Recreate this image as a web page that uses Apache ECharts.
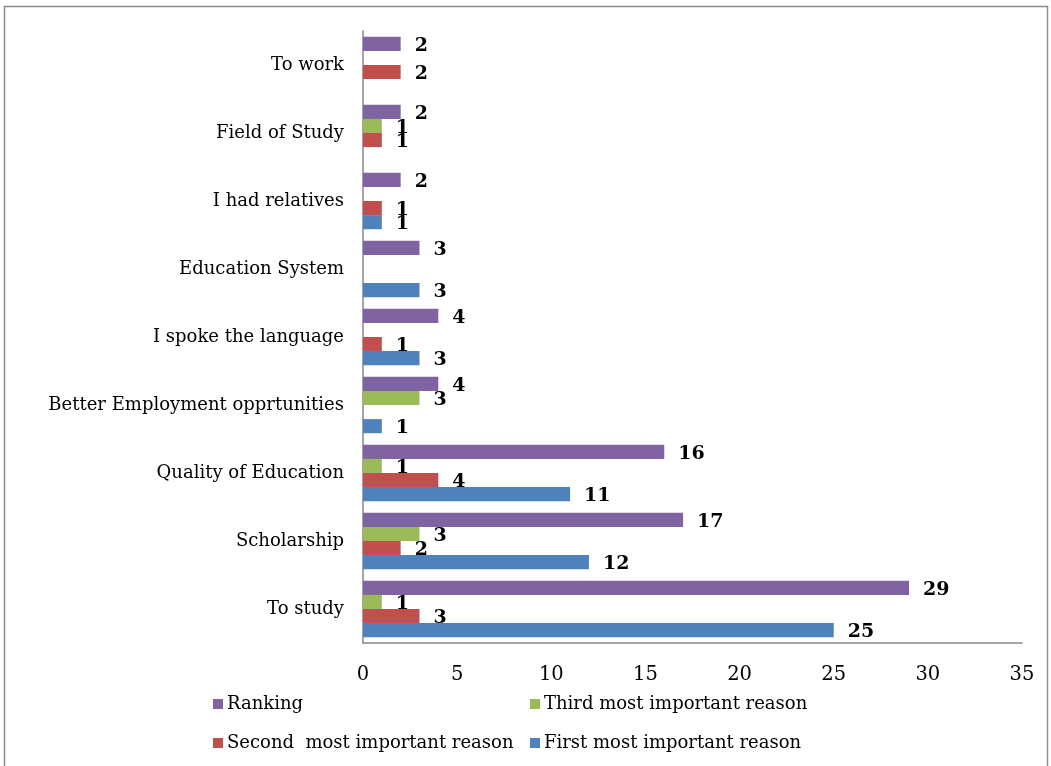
<!DOCTYPE html>
<html>
<head>
<meta charset="utf-8">
<script src="https://cdn.jsdelivr.net/npm/echarts@6/dist/echarts.min.js"></script>
<style>html,body{margin:0;padding:0;background:#fff}#c{width:1051px;height:766px}</style>
</head>
<body>
<div id="c"></div>
<script>
const categories = ["To study", "Scholarship", "Quality of Education", "Better Employment opprtunities", "I spoke the language", "Education System", "I had relatives", "Field of Study", "To work"];
const firstReason  = [25, 12, 11, 1, 3, 3, 1, null, null];
const secondReason = [3, 2, 4, null, 1, null, 1, 1, 2];
const thirdReason  = [1, 3, 1, 3, null, null, null, 1, null];
const ranking      = [29, 17, 16, 4, 4, 3, 2, 2, 2];
const seriesNames = ["Ranking", "Third most important reason", "Second  most important reason", "First most important reason"];
const colors = ["#8064A2", "#9BBB59", "#C0504D", "#4F81BD"];
const xTicks = {min: 0, max: 35, interval: 5};

const FONT = "DejaVu Serif";
const chart = echarts.init(document.getElementById('c'), null, {renderer: 'canvas'});
const dataSets = [ranking, thirdReason, secondReason, firstReason];
const series = dataSets.map((d, i) => ({
  type: 'bar',
  name: seriesNames[i],
  data: d,
  barGap: '0%',
  barCategoryGap: '17%',
  itemStyle: {color: colors[i]},
  label: {show: true, position: 'right', distance: 14, color: '#000', fontFamily: FONT, fontWeight: 'bold', fontSize: 19, offset: [0, 2]},
  animation: false
}));
function leg(name, left, top) {
  return {data: [name], left: left, top: top, icon: 'rect', itemWidth: 10, itemHeight: 10, itemGap: 4,
    textStyle: {fontFamily: FONT, fontSize: 18, color: '#000', padding: [0,0,0,-1]}, selectedMode: false, padding: 0};
}
chart.setOption({
  animation: false,
  backgroundColor: '#fff',
  color: colors,
  grid: {left: 363, right: 29, top: 31, bottom: 123, containLabel: false},
  xAxis: {type: 'value', min: xTicks.min, max: xTicks.max, interval: xTicks.interval,
    axisLine: {show: true, lineStyle: {color: '#868686', width: 1.5}}, axisTick: {show: false},
    splitLine: {show: false}, axisLabel: {fontFamily: FONT, fontSize: 19.5, color: '#000', margin: 22}},
  yAxis: {type: 'category', data: categories,
    axisLine: {show: true, lineStyle: {color: '#868686', width: 1.5}}, axisTick: {show: false},
    axisLabel: {fontFamily: FONT, fontSize: 18, color: '#000', margin: 19}},
  legend: [
    leg(seriesNames[0], 213, 695),
    leg(seriesNames[1], 530, 695),
    leg(seriesNames[2], 213, 734),
    leg(seriesNames[3], 530, 734)
  ],
  graphic: [{type: 'rect', shape: {x: 4.5, y: 6.5, width: 1043, height: 800}, style: {fill: 'none', stroke: '#8c8c8c', lineWidth: 1.5}, silent: true}],
  series: series
});
</script>
</body>
</html>
